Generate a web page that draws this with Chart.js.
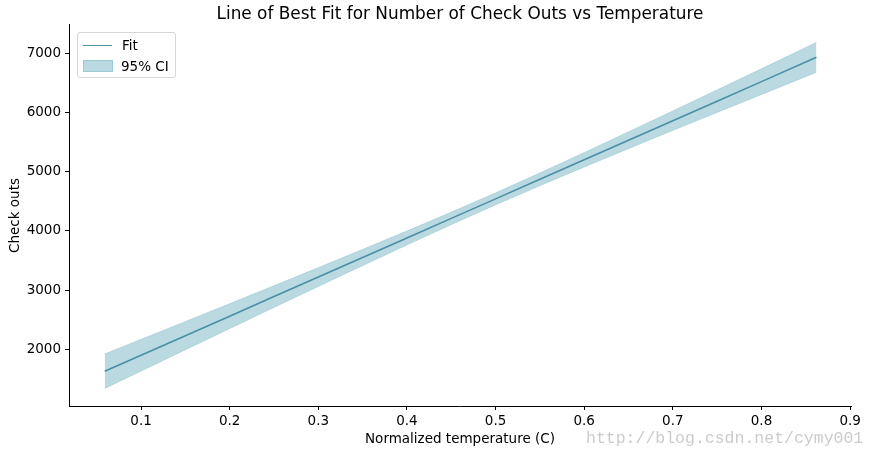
<!DOCTYPE html>
<html>
<head>
<meta charset="utf-8">
<script src="https://cdn.jsdelivr.net/npm/chart.js@4/dist/chart.umd.min.js"></script>
<style>
  body { margin: 0; background: #fff; }
  #wrap { position: relative; width: 876px; height: 452px; }
  #legend { position: absolute; left: 77px; top: 32px; width: 97px; height: 44px;
    border: 1px solid #d6d6d6; border-radius: 3px; background: rgba(255,255,255,0.8);
    font-family: "DejaVu Sans"; font-size: 13.5px; color: #000; }
  #legend span { position: absolute; line-height: 16px; }
</style>
</head>
<body>
<div id="wrap">
  <canvas id="grafico" width="876" height="452"></canvas>
  <div id="legend">
    <div style="position:absolute;left:5px;top:11.5px;width:29px;height:1.4px;background:#4a8fa5"></div>
    <span style="left:44px;top:4px">Fit</span>
    <div style="position:absolute;left:5px;top:27px;width:28px;height:10px;background:#bad9e0;border:1px solid #9ccad5"></div>
    <span style="left:43px;top:25px">95% CI</span>
  </div>
</div>
<script>
// valores
const temps = [0.059, 0.1, 0.15, 0.2, 0.25, 0.3, 0.35, 0.4, 0.45, 0.5, 0.55, 0.6, 0.65, 0.7, 0.75, 0.8, 0.862];
const fitVals = [1628, 1899, 2229, 2559, 2890, 3220, 3550, 3880, 4211, 4541, 4871, 5201, 5532, 5862, 6192, 6522, 6932];
const ciLower = [1338, 1633, 1992, 2350, 2708, 3063, 3415, 3764, 4107, 4441, 4765, 5081, 5392, 5699, 6003, 6306, 6681];
const ciUpper = [1918, 2165, 2466, 2768, 3072, 3377, 3685, 3996, 4315, 4641, 4977, 5321, 5672, 6025, 6381, 6738, 7183];
const xTicks = [0.1, 0.2, 0.3, 0.4, 0.5, 0.6, 0.7, 0.8, 0.9];
const yTicks = [2000, 3000, 4000, 5000, 6000, 7000];

const pts = (ys) => temps.map((x, i) => ({ x: x, y: ys[i] }));
const fonte = { family: 'DejaVu Sans', size: 13.5 };

// marca d'água do blog
const marca = {
  id: 'marca',
  afterDraw(chart) {
    const c = chart.ctx;
    c.save();
    c.font = '16.5px "Liberation Mono"';
    c.fillStyle = 'rgba(190,190,190,0.8)';
    c.textBaseline = 'alphabetic';
    c.fillText('http://blog.csdn.net/cymy001', 586, 443);
    c.restore();
  }
};

const config = {
  type: 'line',
  data: {
    datasets: [
      { label: 'Fit', data: pts(fitVals), borderColor: '#4a8fa5', borderWidth: 1.6, pointRadius: 0, fill: false },
      { label: 'lower', data: pts(ciLower), borderColor: '#a6cfd8', borderWidth: 0.8, pointRadius: 0, fill: false },
      { label: '95% CI', data: pts(ciUpper), borderColor: '#a6cfd8', borderWidth: 0.8, pointRadius: 0,
        fill: '-1', backgroundColor: '#bad9e0' }
    ]
  },
  options: {
    responsive: false,
    animation: false,
    layout: { padding: { left: 0, right: 25, top: 0, bottom: 0 } },
    plugins: {
      legend: { display: false },
      tooltip: { enabled: false },
      title: {
        display: true,
        fullSize: false,
        text: 'Line of Best Fit for Number of Check Outs vs Temperature',
        color: '#000',
        font: { family: 'DejaVu Sans', size: 16.9, weight: 'normal' },
        padding: { top: 4.5, bottom: 0.2 }
      }
    },
    scales: {
      x: {
        type: 'linear',
        min: 0.0187,
        max: 0.901,
        afterFit: (s) => { s.height = 46; },
        afterBuildTicks: (s) => { s.ticks = xTicks.map(v => ({ value: v })); },
        ticks: { color: '#000', font: fonte, padding: 3, maxRotation: 0, callback: (v) => v.toFixed(1) },
        grid: { drawOnChartArea: false, drawTicks: true, tickLength: 4, color: '#000' },
        border: { display: true, color: '#000', width: 1 },
        title: { display: true, text: 'Normalized temperature (C)', color: '#000', font: fonte, padding: { top: 0, bottom: 4 } }
      },
      y: {
        min: 1041,
        max: 7479,
        afterFit: (s) => { s.width = 69; },
        afterBuildTicks: (s) => { s.ticks = yTicks.map(v => ({ value: v })); },
        ticks: { color: '#000', font: fonte, padding: 4, callback: (v) => String(v) },
        grid: { drawOnChartArea: false, drawTicks: true, tickLength: 4, color: '#000' },
        border: { display: true, color: '#000', width: 1 },
        title: { display: true, text: 'Check outs', color: '#000', font: fonte, padding: { top: 7, bottom: 0 } }
      }
    }
  },
  plugins: [marca]
};

// criação do gráfico
const ctx = document.getElementById('grafico').getContext('2d');
const grafico = new Chart(ctx, config);
</script>
</body>
</html>
